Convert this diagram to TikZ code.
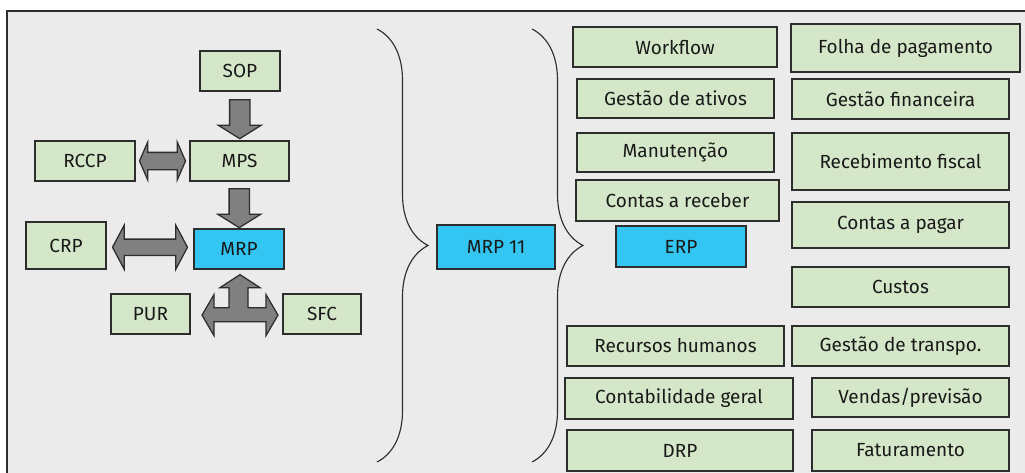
\documentclass[tikz,border=0pt]{standalone}
\usepackage{fontspec}
\setmainfont{Fira Sans}
\usetikzlibrary{shapes.arrows,decorations.pathreplacing,calc}

\definecolor{boxgreen}{RGB}{213,231,201}
\definecolor{mrpblue}{RGB}{51,198,243}
\definecolor{panelgray}{RGB}{235,235,235}
\definecolor{arrowgray}{RGB}{128,128,128}
\definecolor{edge}{RGB}{45,45,45}

\newlength\pxu
\setlength\pxu{0.025cm}

\begin{document}
\begin{tikzpicture}[x=0.025cm, y=-0.025cm,
  box/.style={draw=edge, fill=boxgreen, line width=0.9pt, inner sep=0pt, text=black!90, font=\fontsize{13.5}{15}\selectfont},
  hub/.style={box, fill=mrpblue},
  fat/.style={draw=edge, fill=arrowgray, line width=0.9pt, inner xsep=0pt},
  brc/.style={draw=edge, line width=0.8pt, decorate, decoration={brace, amplitude=51\pxu}}]

\useasboundingbox (0,0) rectangle (1025,473);
\draw[fill=panelgray, draw=edge, line width=1.2pt] (7,11) rectangle (1040,490);

% MRP side
\node[box, minimum width=80\pxu, minimum height=40\pxu] (sop) at (240,71) {SOP};
\node[box, minimum width=99\pxu, minimum height=40\pxu] (mps) at (239.5,161) {MPS};
\node[box, minimum width=100\pxu, minimum height=40\pxu] (rccp) at (85,161) {RCCP};
\node[hub, minimum width=90\pxu, minimum height=40\pxu] (mrp) at (239,249) {MRP};
\node[box, minimum width=80\pxu, minimum height=47\pxu] (crp) at (66,245.5) {CRP};
\node[box, minimum width=79\pxu, minimum height=40\pxu] (pur) at (150.5,314) {PUR};
\node[box, minimum width=78\pxu, minimum height=40\pxu] (sfc) at (322,314) {SFC};

\node[fat, single arrow, rotate=-90, inner ysep=9.5\pxu, minimum height=39\pxu, single arrow head extend=11.5\pxu, single arrow tip angle=116] (sopmps) at ($(sop.south)!.5!(mps.north)$) {};
\node[fat, single arrow, rotate=-90, inner ysep=9.5\pxu, minimum height=39\pxu, single arrow head extend=11.5\pxu, single arrow tip angle=116] (mpsmrp) at ($(mps.south)!.5!(mrp.north)$) {};
\node[fat, double arrow, inner ysep=8\pxu, minimum height=46\pxu, double arrow head extend=10.5\pxu, double arrow tip angle=133] (rccpmps) at ($(rccp.east)!.5!(mps.west)$) {};
\node[fat, double arrow, inner ysep=7.5\pxu, minimum height=75\pxu, double arrow head extend=14\pxu, double arrow tip angle=124] (crpmrp) at ($(crp.east)!.5!(mrp.west)$) {};

% three way arrow under MRP
\draw[fat, shift={(mrp.south)}] (1,5) -- (21,18) -- (9,18) -- (9,38) -- (27,38) -- (27,25) -- (39,45.5) -- (27,66) -- (27,52) -- (-25,52) -- (-25,66) -- (-37,45.5) -- (-25,25) -- (-25,38) -- (-10,38) -- (-10,18) -- (-19,18) -- cycle;

% braces
\draw[brc] (377,29) -- (377,462);
\node[hub, minimum width=118\pxu, minimum height=44\pxu] (mrpii) at (496,247) {MRP 11};
\draw[brc] (532,29) -- (532,462);

% ERP side
\node[box, minimum width=204\pxu, minimum height=40\pxu] (wf) at (675,47) {Workflow};
\node[box, minimum width=229\pxu, minimum height=48\pxu] (folha) at (905.5,48) {Folha de pagamento};
\node[box, minimum width=197\pxu, minimum height=39\pxu] (ativos) at (675.5,98.5) {Gestão de ativos};
\node[box, minimum width=217\pxu, minimum height=40\pxu] (fin) at (900.5,99) {Gestão financeira};
\node[box, minimum width=197\pxu, minimum height=39\pxu] (manut) at (675.5,152.5) {Manutenção};
\node[box, minimum width=217\pxu, minimum height=57\pxu] (receb) at (900.5,161.5) {Recebimento fiscal};
\node[box, minimum width=203\pxu, minimum height=41\pxu] (creceber) at (677.5,200.5) {Contas a receber};
\node[hub, minimum width=130\pxu, minimum height=41\pxu] (erp) at (681,246.5) {ERP};
\node[box, minimum width=217\pxu, minimum height=46\pxu] (cpagar) at (900.5,225) {Contas a pagar};
\node[box, minimum width=217\pxu, minimum height=40\pxu] (custos) at (900.5,287) {Custos};
\node[box, minimum width=217\pxu, minimum height=40\pxu] (rh) at (675.5,346) {Recursos humanos};
\node[box, minimum width=217\pxu, minimum height=40\pxu] (transp) at (900.5,346) {Gestão de transpo.};
\node[box, minimum width=228\pxu, minimum height=41\pxu] (contab) at (679,398.5) {Contabilidade geral};
\node[box, minimum width=197\pxu, minimum height=39\pxu] (vendas) at (910.5,397.5) {Vendas/previsão};
\node[box, minimum width=226\pxu, minimum height=41\pxu] (drp) at (680,450.5) {DRP};
\node[box, minimum width=197\pxu, minimum height=41\pxu] (fatur) at (910.5,450.5) {Faturamento};
\end{tikzpicture}
\end{document}
